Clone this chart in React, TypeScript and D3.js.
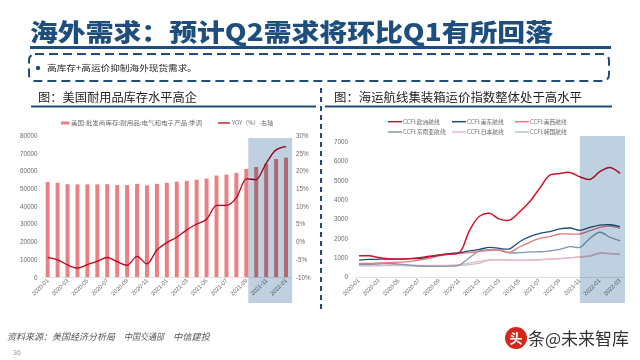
import React from 'react';
import * as d3 from 'd3';

// ---------- data ----------
const leftMonths = [
  '2020-01','2020-02','2020-03','2020-04','2020-05','2020-06','2020-07','2020-08','2020-09','2020-10','2020-11','2020-12',
  '2021-01','2021-02','2021-03','2021-04','2021-05','2021-06','2021-07','2021-08','2021-09','2021-10','2021-11','2021-12',
  '2022-01',
];
const inventory = [53800,53400,52600,52500,52500,52500,52600,52100,52100,52800,51900,52800,53400,54000,54500,55100,55800,57500,58000,59000,61200,62300,64200,66800,67600];
const yoy = [-4.4,-5.1,-6.5,-7.4,-6.4,-5.5,-4.4,-5.6,-6.6,-4.1,-6.2,-2.3,-0.2,1.3,3.4,5.0,6.4,10.3,10.3,12.5,17.8,17.6,22.2,26.0,26.9];
const leftTickLabels = ['2020-01','2020-03','2020-05','2020-07','2020-09','2020-11','2021-01','2021-03','2021-05','2021-07','2021-09','2021-11','2022-01'];

const rightMonths = [
  '2020-01','2020-02','2020-03','2020-04','2020-05','2020-06','2020-07','2020-08','2020-09','2020-10','2020-11','2020-12',
  '2021-01','2021-02','2021-03','2021-04','2021-05','2021-06','2021-07','2021-08','2021-09','2021-10','2021-11','2021-12',
  '2022-01','2022-02','2022-03',
];
const rightTickLabels = ['2020-01','2020-03','2020-05','2020-07','2020-09','2020-11','2021-01','2021-03','2021-05','2021-07','2021-09','2021-11','2022-01','2022-03'];
const europe = [1100,1100,1000,950,930,950,1000,1080,1140,1190,1260,2400,3150,3300,3000,2950,3380,3900,4600,5280,5370,5420,5200,5060,5460,5680,5370];
const usEast = [880,910,930,930,930,950,960,1040,1140,1210,1260,1350,1430,1540,1480,1460,1830,2090,2260,2350,2490,2540,2420,2570,2690,2710,2610];
const usWest = [710,710,730,750,770,800,880,970,1090,1170,1220,1260,1330,1380,1400,1280,1570,1800,2000,2090,2230,2230,2230,2400,2570,2640,2520];
const seAsia = [650,660,680,700,670,620,570,550,550,560,620,1000,1350,1420,1380,1250,1260,1300,1310,1360,1430,1580,1540,2000,2320,2060,1880];
const japan = [600,600,610,620,620,610,600,600,600,610,640,720,820,900,900,880,870,880,900,930,960,1000,1050,1100,1250,1220,1170];
const korea = [580,580,580,590,590,580,570,570,570,580,600,640,720,880,890,870,860,870,890,920,950,990,1040,1080,1220,1200,1180];

const seriesNames = ['CCFI:欧洲航线','CCFI:美东航线','CCFI:美西航线','CCFI:东南亚航线','CCFI:日本航线','CCFI:韩国航线'];
const seriesValues = [europe, usEast, usWest, seAsia, japan, korea];
const seriesColors = ['#d0142c','#1e4d78','#e8777f','#7d98b3','#f1b7bd','#b4c3d3'];

// ---------- styles ----------
const BLUE = '#1d4e7e';
const SANS = "'Liberation Sans', Arial, sans-serif";
const CJK = "'Noto Sans CJK SC', 'Noto Sans', sans-serif";
const GREY = '#6b6b6b';

export default function App() {
  // left chart scales
  const xL = d3.scaleBand<string>().domain(leftMonths).range([42.7, 291]).paddingInner(0.6).paddingOuter(0.3);
  const bw = xL.bandwidth();
  const step = xL.step();
  const yL = d3.scaleLinear().domain([0, 80000]).range([277.3, 135.7]);
  const yR = d3.scaleLinear().domain([-10, 30]).range([277.3, 135.7]);
  const cx = (m: string) => (xL(m) as number) + bw / 2;
  const yoyLine = d3.line<number>().x((_, i) => cx(leftMonths[i])).y(d => yR(d)).curve(d3.curveMonotoneX);

  // right chart scales
  const xR = d3.scalePoint<string>().domain(rightMonths).range([359, 620]);
  const yC = d3.scaleLinear().domain([0, 7000]).range([277, 142]);
  const ccfiLine = d3.line<number>().x((_, i) => xR(rightMonths[i]) as number).y(d => yC(d)).curve(d3.curveCatmullRom.alpha(0.5));

  const shadeL0 = (xL('2021-09') as number) + bw;
  const shadeL1 = (xL('2022-01') as number) + bw + (step - bw) * 0.7;
  const shadeR0 = xR('2021-11') as number;
  const shadeR1 = (xR('2022-03') as number) + 5;

  return (
    <svg width={640} height={360} style={{ position: 'absolute', left: 0, top: 0, background: '#fff' }}>
      <rect x={0} y={0} width={640} height={360} fill="#fff" />

      {/* Title */}
      <text x={30} y={41} fontFamily={CJK} fontWeight={900} fontSize={24} fill={BLUE}
        textLength={523} lengthAdjust="spacingAndGlyphs">海外需求：预计Q2需求将环比Q1有所回落</text>
      <line x1={30} x2={611} y1={47.5} y2={47.5} stroke={BLUE} strokeWidth={3} />

      {/* dashed box */}
      <rect x={29} y={54} width={580} height={27} rx={6} fill="none" stroke={BLUE} strokeWidth={2} strokeDasharray="9 5" />
      <circle cx={38} cy={68} r={2.2} fill={BLUE} />
      <text x={47} y={71} fontFamily={CJK} fontSize={8.5} fill="#222" textLength={150} lengthAdjust="spacingAndGlyphs">高库存+高运价抑制海外现货需求。</text>

      {/* subtitles */}
      <text x={38} y={102} fontFamily={CJK} fontSize={12} fill="#222" textLength={159} lengthAdjust="spacingAndGlyphs">图：美国耐用品库存水平高企</text>
      <text x={334} y={102} fontFamily={CJK} fontSize={12} fill="#222" textLength={248} lengthAdjust="spacingAndGlyphs">图：海运航线集装箱运价指数整体处于高水平</text>
      <line x1={31} x2={316} y1={106.5} y2={106.5} stroke={BLUE} strokeWidth={2} />
      <line x1={325} x2={612} y1={106.5} y2={106.5} stroke={BLUE} strokeWidth={2} />
      <line x1={321} x2={321} y1={88} y2={313} stroke={BLUE} strokeWidth={2} strokeDasharray="5 4" />

      {/* ---------- left chart ---------- */}
      <g>
        {/* legend */}
        <rect x={61} y={121.5} width={8.5} height={3} fill="#ea8081" />
        <text x={71} y={125.3} fontFamily={CJK} fontSize={5.8} fill={GREY} textLength={131} lengthAdjust="spacingAndGlyphs">美国:批发商库存:耐用品:电气和电子产品:季调</text>
        <line x1={218} x2={230} y1={123} y2={123} stroke="#c00020" strokeWidth={1.3} />
        <text x={232} y={125.3} fontFamily={CJK} fontSize={5.8} fill={GREY} textLength={41} lengthAdjust="spacingAndGlyphs">YOY（%）-右轴</text>

        {/* left y labels */}
        {yL.ticks(8).map(t => (
          <text key={'yl' + t} x={37.5} y={yL(t) + 2.2} textAnchor="end" fontFamily={SANS} fontSize={6.3} fill={GREY}>{t}</text>
        ))}
        {/* right y labels */}
        {yR.ticks(8).map(t => (
          <text key={'yr' + t} x={296} y={yR(t) + 2.2} fontFamily={SANS} fontSize={6.3} fill={GREY}>{t}%</text>
        ))}

        {/* bars */}
        {inventory.map((v, i) => (
          <rect key={'b' + i} x={xL(leftMonths[i])} y={yL(v)} width={bw} height={yL(0) - yL(v)} fill="#ea8081" />
        ))}
        <line x1={42.7} x2={291} y1={277.5} y2={277.5} stroke="#d9d9d9" strokeWidth={0.8} />
        <path d={yoyLine(yoy) || ''} fill="none" stroke="#c00020" strokeWidth={1.3} />

        {/* x labels */}
        {leftTickLabels.map(m => (
          <text key={'xl' + m} transform={`translate(${cx(m) + 1.5},${281})rotate(-45)`} textAnchor="end"
            fontFamily={SANS} fontSize={5.8} fill={GREY}>{m}</text>
        ))}

        {/* shading */}
        <rect x={shadeL0} y={138} width={shadeL1 - shadeL0} height={165} fill="#bfd1e0" style={{ mixBlendMode: 'multiply' }} />
      </g>

      {/* ---------- right chart ---------- */}
      <g>
        {seriesNames.map((n, i) => {
          const col = i % 3;
          const row = Math.floor(i / 3);
          const lx = [388, 452, 515][col];
          const ly = [121.7, 132][row];
          return (
            <g key={'lg' + i}>
              <line x1={lx} x2={lx + 14} y1={ly} y2={ly} stroke={seriesColors[i]} strokeWidth={1.5} />
              <text x={lx + 15} y={ly + 2.1} fontFamily={CJK} fontSize={5.8} fill={GREY}>{n}</text>
            </g>
          );
        })}

        {yC.ticks(7).map(t => (
          <text key={'yc' + t} x={348} y={yC(t) + 2.2} textAnchor="end" fontFamily={SANS} fontSize={6.3} fill={GREY}>{t}</text>
        ))}
        <line x1={355} x2={625} y1={277.5} y2={277.5} stroke="#d9d9d9" strokeWidth={0.8} />

        {[5, 4, 3, 2, 1, 0].map(i => (
          <path key={'s' + i} d={ccfiLine(seriesValues[i]) || ''} fill="none" stroke={seriesColors[i]} strokeWidth={i === 0 ? 1.5 : 1.3} />
        ))}

        {rightTickLabels.map(m => (
          <text key={'xr' + m} transform={`translate(${(xR(m) as number) + 1},${281})rotate(-45)`} textAnchor="end"
            fontFamily={SANS} fontSize={5.8} fill={GREY}>{m}</text>
        ))}

        <rect x={shadeR0} y={136} width={shadeR1 - shadeR0} height={167} fill="#bfd1e0" style={{ mixBlendMode: 'multiply' }} />
      </g>

      {/* footer */}
      <text x={7} y={340} fontFamily={CJK} fontStyle="italic" fontSize={9} fill="#555" textLength={108} lengthAdjust="spacingAndGlyphs">资料来源：美国经济分析局</text>
      <text x={124} y={340} fontFamily={CJK} fontStyle="italic" fontSize={9} fill="#555" textLength={40} lengthAdjust="spacingAndGlyphs">中国交通部</text>
      <text x={173} y={340} fontFamily={CJK} fontStyle="italic" fontSize={9} fill="#555" textLength={37} lengthAdjust="spacingAndGlyphs">中信建投</text>
      <text x={13} y={355} fontFamily={SANS} fontSize={7} fill="#999">36</text>

      {/* watermark */}
      <circle cx={516} cy={338} r={11} fill="#d3261c" />
      <text x={516} y={343} textAnchor="middle" fontFamily={CJK} fontWeight={700} fontSize={13} fill="#fff">头</text>
      <text x={528} y={345} fontFamily={CJK} fontSize={17} fill="#333" textLength={101} lengthAdjust="spacingAndGlyphs">条@未来智库</text>
    </svg>
  );
}
